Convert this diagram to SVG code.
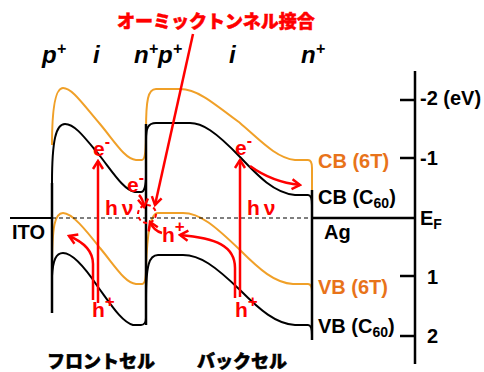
<svg xmlns="http://www.w3.org/2000/svg" width="484" height="372" viewBox="0 0 484 372">
<defs>
<style>
.t{font-family:"Liberation Sans",Arial,sans-serif;font-weight:bold;}
.lay{font-family:"Liberation Sans",Arial,sans-serif;font-weight:bold;font-style:italic;font-size:24px;fill:#000;}
.lab{font-size:20px;fill:#000;}
.org{fill:#E8731A;}
.red{fill:#FF0000;font-size:21px;}
.jp{font-family:"Noto Sans CJK JP",sans-serif;font-weight:900;stroke-width:0.5;}
.cbo{fill:none;stroke:#F0A028;stroke-width:2;}
.cbk{fill:none;stroke:#000;stroke-width:2;}
.ax{fill:none;stroke:#000;stroke-width:2.5;}
.ra{fill:none;stroke:#FF0000;stroke-width:2.5;}
</style>
<marker id="ah" viewBox="-10 -7 12 14" markerWidth="12" markerHeight="14" refX="0" refY="0" orient="auto" markerUnits="userSpaceOnUse">
<path d="M-8,-5 L0,0 L-8,5" fill="none" stroke="#FF0000" stroke-width="2.5"/>
</marker>
</defs>
<rect width="484" height="372" fill="#fff"/>

<g id="bands">
<path class="cbo" d="M52,145 C52,105 56,88 63,88 C72,88 82,103 100,124 C115,142 125,159 136,160 L142,160 C145,160 146,150 146,130 C146,100 148,89 156,89 L180,89 C196,89 210,100 240,123 C260,140 276,158 295,160 L308,160 C311,160 312,163 312,168 L312,208"/>
<path class="cbk" d="M52,183 C52,140 56,124 65,124 C75,124 85,138 100,156 C114,174 124,190 135,192 L141,192 C144,192 146,186 146,176"/>
<path class="cbk" d="M146,140 C146,128 148,123 156,123 L190,123 C202,123 215,131 240,157 C258,176 274,193 295,195 L308,195 C311,195 312,198 312,205"/>
<path class="cbo" d="M52,268 C52,225 55,213 63,213 C72,213 85,229 100,248 C115,266 125,283 136,284 L142,284 C145,284 146,278 146,268 C147,235 150,213 158,213 L183,213 C200,213 215,226 240,250 C260,270 275,283 293,284 L308,284 C311,284 312,287 312,292"/>
<path class="cbk" d="M52,276 C53,260 56,253 63,253 C72,253 84,266 98,287 C112,306 122,322 133,325 L141,325 C144,325 146,322 146,318"/>
<path class="cbk" d="M146,300 C146,265 149,255 158,255 L183,255 C200,255 215,266 240,290 C260,310 276,324 295,325 L308,325 C311,325 312,328 312,335"/>
</g>

<g id="electrodes">
<line class="ax" x1="52" y1="183" x2="52" y2="313"/>
<line class="ax" x1="146" y1="124" x2="146" y2="325"/>
<line class="ax" x1="312" y1="190" x2="312" y2="340"/>
<line x1="10" y1="218" x2="52" y2="218" stroke="#000" stroke-width="2"/>
<line x1="52" y1="218" x2="312" y2="218" stroke="#000" stroke-width="1.2" stroke-dasharray="4,3"/>
<line x1="312" y1="218" x2="415" y2="218" stroke="#000" stroke-width="2.5"/>
</g>

<g id="axis">
<line class="ax" x1="415" y1="71" x2="415" y2="364"/>
<line class="ax" x1="400" y1="100" x2="415" y2="100"/>
<line class="ax" x1="400" y1="158" x2="415" y2="158"/>
<line class="ax" x1="400" y1="276" x2="415" y2="276"/>
<line class="ax" x1="400" y1="336" x2="415" y2="336"/>
<text class="t lab" x="420" y="105">-2 (eV)</text>
<text class="t lab" x="420" y="165">-1</text>
<text class="t lab" x="420" y="225">E<tspan font-size="14" dy="4">F</tspan></text>
<text class="t lab" x="427" y="284">1</text>
<text class="t lab" x="427" y="343">2</text>
</g>

<g id="labels">
<text class="lay" x="42" y="63">p<tspan dy="-9" font-size="16">+</tspan></text>
<text class="lay" x="93" y="63">i</text>
<text class="lay" x="134" y="63">n<tspan dy="-9" font-size="16">+</tspan><tspan dy="9">p</tspan><tspan dy="-9" font-size="16">+</tspan></text>
<text class="lay" x="229" y="63">i</text>
<text class="lay" x="301" y="63">n<tspan dy="-9" font-size="16">+</tspan></text>
<text class="t lab org" x="318" y="168">CB (6T)</text>
<text class="t lab" x="318" y="204">CB (C<tspan font-size="14" dy="4">60</tspan><tspan dy="-4">)</tspan></text>
<text class="t lab" x="324" y="239">Ag</text>
<text class="t lab org" x="318" y="294">VB (6T)</text>
<text class="t lab" x="318" y="333">VB (C<tspan font-size="14" dy="4">60</tspan><tspan dy="-4">)</tspan></text>
<text class="t lab" x="12" y="239">ITO</text>
<text class="jp" x="47" y="368" font-size="18" fill="#000" stroke="#000">フロントセル</text>
<text class="jp" x="197" y="368" font-size="18" fill="#000" stroke="#000">バックセル</text>
<text class="jp" x="117" y="28" font-size="18" fill="#FF0000" stroke="#FF0000">オーミックトンネル接合</text>
</g>

<g id="carriers">
<text class="t red" x="93" y="156">e<tspan dy="-9" font-size="16">-</tspan></text>
<text class="t red" x="92" y="317">h<tspan dy="-10" font-size="17">+</tspan></text>
<text class="t red" x="127" y="192">e<tspan dy="-9" font-size="16">-</tspan></text>
<text class="t red" x="105" y="215" letter-spacing="4">hν</text>
<text class="t red" x="162" y="242">h<tspan dy="-10" font-size="17">+</tspan></text>
<text class="t red" x="235" y="155">e<tspan dy="-9" font-size="16">-</tspan></text>
<text class="t red" x="247" y="215" letter-spacing="4">hν</text>
<text class="t red" x="235" y="317">h<tspan dy="-10" font-size="17">+</tspan></text>
</g>

<g id="connectors">
<path class="ra" d="M98,303 L98,161" marker-end="url(#ah)"/>
<path class="ra" d="M93,300 L93,264 Q93,246 69,236" marker-end="url(#ah)"/>
<path class="ra" d="M240,297 L240,160" marker-end="url(#ah)"/>
<path class="ra" d="M235,298 L235,268 C235,246 216,238 180,235" marker-end="url(#ah)"/>
<path class="ra" d="M250,166 Q272,182 300,185" stroke-width="2" marker-end="url(#ah)"/>
<path class="ra" d="M139,195 Q143,199 144,207" marker-end="url(#ah)"/>
<path class="ra" d="M162,233 Q154,231 150,222" marker-end="url(#ah)"/>
<path class="ra" d="M193,34 L155,205" marker-end="url(#ah)"/>
<ellipse cx="147" cy="214" rx="9" ry="9" fill="none" stroke="#FF0000" stroke-width="2" stroke-dasharray="4,3"/>
</g>
</svg>
